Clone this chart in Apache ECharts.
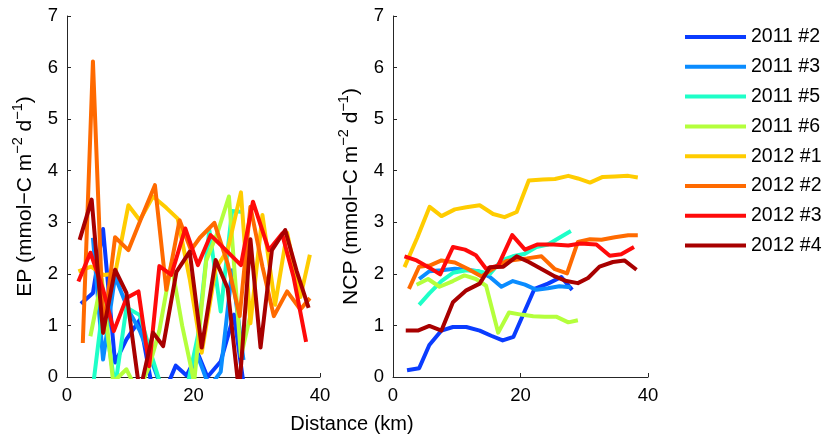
<!DOCTYPE html>
<html>
<head>
<meta charset="utf-8">
<script src="https://cdn.jsdelivr.net/npm/echarts@6.0.0/dist/echarts.min.js"></script>
<style>
  html, body { margin: 0; padding: 0; background: #fff; }
  #chart { width: 830px; height: 440px; }
</style>
</head>
<body>
<div id="chart"></div>
<script>
// legend names + line colours (jet-like)
var names = ['2011 #2', '2011 #3', '2011 #5', '2011 #6', '2012 #1', '2012 #2', '2012 #3', '2012 #4'];
var colors = ['#0a3cff', '#0a8cff', '#1effc8', '#b4ff3c', '#ffcc00', '#ff6a00', '#ff0a0a', '#a80000'];

// distance (km) along each transect
var dist2011_2 = [2.2, 4.1, 5.7, 7.6, 9.4, 11.5, 13.6, 15.4, 17.2, 18.9, 20.7, 22.2, 24.3, 26.4, 28.1];
var dist2011_3 = [4.1, 5.7, 7.6, 9.7, 11.5, 13.4, 15.2, 17.0, 18.8, 20.7, 22.5, 24.3, 26.1, 27.9];
var dist2011_5 = [4.1, 5.7, 7.6, 9.4, 11.5, 13.4, 15.2, 17.0, 18.8, 20.7, 22.5, 24.3, 26.1, 27.9];
var dist2011_6 = [3.7, 5.5, 7.3, 9.4, 11.2, 13.0, 14.6, 16.5, 18.2, 20.1, 22.0, 23.8, 25.6, 27.5, 29.0];
var dist2012_1 = [1.8, 3.8, 5.75, 7.6, 9.7, 11.5, 13.6, 15.7, 17.5, 19.4, 21.3, 23.5, 25.4, 27.5, 29.0, 30.9, 32.9, 34.8, 36.9, 38.4];
var dist2012_2 = [2.5, 4.1, 5.75, 7.6, 9.7, 11.7, 13.9, 15.7, 17.8, 19.6, 21.0, 23.3, 25.4, 27.3, 29.0, 30.9, 32.7, 34.8, 36.9, 38.4];
var dist2012_3 = [1.8, 3.7, 5.7, 7.4, 9.4, 11.3, 13.0, 14.6, 16.5, 18.7, 20.7, 22.7, 25.2, 27.5, 29.4, 31.9, 34.0, 35.8, 37.8];
var dist2012_4 = [2.0, 3.9, 5.7, 7.6, 9.4, 11.5, 13.6, 15.2, 17.3, 19.4, 21.3, 23.5, 25.4, 27.2, 29.0, 30.6, 32.4, 34.5, 36.3, 38.2];

// EP (mmol-C m-2 d-1)
var ep2011_2 = [1.42, 1.63, 2.87, 0.28, 0.73, 1.11, -0.3, -0.3, 0.22, 0.03, 0.45, 0.0, 0.3, 1.21, -0.3];
var ep2011_3 = [2.7, 0.34, 1.95, 1.3, 0.9, 0.3, -0.3, -0.4, -0.2, 0.4, -0.2, 0.1, 2.07, 0.33];
var ep2011_5 = [-0.2, 1.4, -0.2, 1.35, 1.2, 0.4, -0.3, -0.5, -0.3, 0.8, 2.85, 1.27, 3.22, 3.2];
var ep2011_6 = [0.79, 1.9, -0.1, 0.15, -0.3, 0.2, 0.9, 2.2, 1.0, -0.1, 2.25, 2.8, 3.5, 0.4, 1.2];
var ep2012_1 = [2.05, 2.14, 1.98, 2.0, 3.33, 3.04, 3.5, 3.28, 3.07, 1.9, 0.47, 2.1, 2.46, 3.58, 1.04, 3.14, 1.4, 2.8, 1.55, 2.37];
var ep2012_2 = [0.66, 6.12, 0.86, 2.71, 2.46, 3.07, 3.72, 1.69, 3.04, 2.46, 2.7, 2.99, 2.2, 1.18, 3.3, 2.14, 1.18, 1.66, 1.31, 1.53];
var ep2012_3 = [1.85, 2.41, 1.7, 0.89, 1.53, 1.66, 0.21, 2.15, 1.98, 2.88, 2.17, 2.75, 2.45, 2.17, 3.4, 2.46, 2.78, 1.95, 0.68];
var ep2012_4 = [2.66, 3.44, 0.86, 2.08, 1.63, -0.3, 0.86, 0.6, 2.04, 2.43, 0.57, 2.27, 1.72, -0.3, 2.67, 0.57, 2.46, 2.85, 2.06, 1.34];

// NCP (mmol-C m-2 d-1)
var ncp2011_2 = [0.13, 0.17, 0.62, 0.9, 0.97, 0.97, 0.9, 0.8, 0.71, 0.78, 1.29, 1.71, 1.81, 1.94, 1.69];
var ncp2011_3 = [1.9, 2.05, 2.07, 2.1, 2.08, 2.05, 1.94, 1.75, 1.86, 1.79, 1.69, 1.72, 1.76, 1.74];
var ncp2011_5 = [1.4, 1.62, 1.86, 2.02, 2.07, 2.05, 2.0, 2.26, 2.34, 2.39, 2.52, 2.57, 2.7, 2.83];
var ncp2011_6 = [1.79, 1.9, 1.75, 1.86, 1.97, 1.9, 1.77, 0.86, 1.25, 1.21, 1.18, 1.17, 1.17, 1.06, 1.1];
var ncp2012_1 = [2.13, 2.7, 3.3, 3.12, 3.25, 3.29, 3.33, 3.16, 3.1, 3.2, 3.81, 3.83, 3.84, 3.9, 3.85, 3.77, 3.88, 3.89, 3.9, 3.87];
var ncp2012_2 = [1.71, 2.14, 2.16, 2.26, 2.22, 2.1, 1.95, 2.1, 2.25, 2.28, 2.3, 2.34, 2.09, 2.01, 2.62, 2.67, 2.66, 2.71, 2.75, 2.75];
var ncp2012_3 = [2.34, 2.26, 2.12, 1.99, 2.52, 2.47, 2.36, 2.1, 2.16, 2.75, 2.47, 2.57, 2.57, 2.55, 2.59, 2.57, 2.35, 2.38, 2.52];
var ncp2012_4 = [0.9, 0.9, 0.99, 0.9, 1.45, 1.68, 1.81, 2.13, 2.14, 2.34, 2.23, 2.08, 1.95, 1.86, 1.82, 1.92, 2.14, 2.23, 2.26, 2.08];

// axis ticks
var xTicks = [0, 20, 40];
var yTicks = [0, 1, 2, 3, 4, 5, 6, 7];

var dists = [dist2011_2, dist2011_3, dist2011_5, dist2011_6, dist2012_1, dist2012_2, dist2012_3, dist2012_4];
var eps = [ep2011_2, ep2011_3, ep2011_5, ep2011_6, ep2012_1, ep2012_2, ep2012_3, ep2012_4];
var ncps = [ncp2011_2, ncp2011_3, ncp2011_5, ncp2011_6, ncp2012_1, ncp2012_2, ncp2012_3, ncp2012_4];

var FONT = 'Liberation Sans, Arial, sans-serif';
var TICK_FS = 18.5;
var LABEL_FS = 21;
var AXIS_COLOR = '#262626';

function pairs(xs, ys) {
	return xs.map(function (x, i) { return [x, ys[i]]; });
}

function makeX(idx) {
	return {
		type: 'value',
		gridIndex: idx,
		min: xTicks[0],
		max: xTicks[xTicks.length - 1],
		interval: xTicks[1] - xTicks[0],
		axisLine: { show: true, onZero: false, lineStyle: { color: AXIS_COLOR, width: 1 } },
		axisTick: { show: true, inside: true, length: 4, lineStyle: { color: AXIS_COLOR } },
		axisLabel: { show: true, fontSize: TICK_FS, fontFamily: FONT, color: '#000', margin: 9 },
		splitLine: { show: false }
	};
}

function makeY(idx, label) {
	return {
		type: 'value',
		gridIndex: idx,
		min: yTicks[0],
		max: yTicks[yTicks.length - 1],
		interval: 1,
		name: label,
		nameLocation: 'middle',
		nameRotate: 90,
		nameGap: 27,
		nameTextStyle: {
			fontSize: LABEL_FS, fontFamily: FONT, color: '#000', lineHeight: 30,
			rich: {
				sup: { fontSize: 14.5, fontFamily: FONT, color: '#000', verticalAlign: 'top', lineHeight: 15 }
			}
		},
		axisLine: { show: true, onZero: false, lineStyle: { color: AXIS_COLOR, width: 1 } },
		axisTick: { show: true, inside: true, length: 4, lineStyle: { color: AXIS_COLOR } },
		axisLabel: { show: true, fontSize: TICK_FS, fontFamily: FONT, color: '#000', margin: 9 },
		splitLine: { show: false }
	};
}

var series = [];
names.forEach(function (n, i) {
	var common = {
		name: n,
		type: 'line',
		showSymbol: false,
		symbol: 'none',
		clip: true,
		color: colors[i],
		lineStyle: { width: 4, color: colors[i], join: 'round' },
		emphasis: { disabled: true },
		animation: false
	};
	series.push(Object.assign({}, common, { xAxisIndex: 0, yAxisIndex: 0, data: pairs(dists[i], eps[i]) }));
	series.push(Object.assign({}, common, { xAxisIndex: 1, yAxisIndex: 1, data: pairs(dists[i], ncps[i]) }));
});

var chart = echarts.init(document.getElementById('chart'), null, { renderer: 'canvas' });

chart.setOption({
	backgroundColor: '#fff',
	animation: false,
	grid: [
		{ left: 67, top: 16, width: 253, height: 361 },
		{ left: 393, top: 16, width: 255, height: 361 }
	],
	xAxis: [makeX(0), makeX(1)],
	yAxis: [
		makeY(0, 'EP (mmol\u2212C m{sup|\u22122} d{sup|\u22121})'),
		makeY(1, 'NCP (mmol\u2212C m{sup|\u22122} d{sup|\u22121})')
	],
	legend: {
		data: names,
		orient: 'vertical',
		left: 680,
		top: 22,
		icon: 'rect',
		itemWidth: 61,
		itemHeight: 4,
		itemGap: 9.8,
		selectedMode: false,
		textStyle: { fontSize: 19.5, fontFamily: FONT, color: '#000' }
	},
	graphic: [{
		type: 'text',
		x: 352,
		y: 424,
		style: {
			text: 'Distance (km)',
			fontSize: 20,
			fontFamily: FONT,
			fill: '#000',
			textAlign: 'center',
			textVerticalAlign: 'middle'
		}
	}],
	series: series
});
</script>
</body>
</html>
